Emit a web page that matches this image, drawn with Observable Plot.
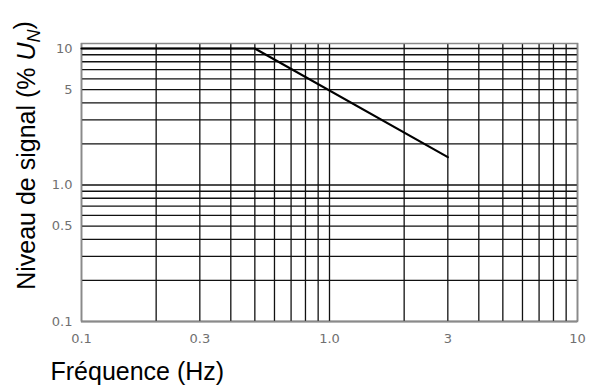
<!DOCTYPE html>
<html>
<head>
<meta charset="utf-8">
<script src="https://cdn.jsdelivr.net/npm/d3@7"></script>
<script src="https://cdn.jsdelivr.net/npm/@observablehq/plot@0.6"></script>
<style>
  body { margin: 0; background: #fff; }
</style>
</head>
<body>
<div id="chart"></div>
<script>
// Signal level limit versus frequency (log-log)
const curveFreq = [0.1, 0.5, 3];
const curveLevel = [10, 10, 1.6];

// Grid lines on both log axes
const freqGrid = [0.1, 0.2, 0.3, 0.4, 0.5, 0.6, 0.7, 0.8, 0.9, 1, 2, 3, 4, 5, 6, 7, 8, 9, 10];
const levelGrid = [0.1, 0.2, 0.3, 0.4, 0.5, 0.6, 0.7, 0.8, 0.9, 1, 2, 3, 4, 5, 6, 7, 8, 9, 10];

// Labelled ticks
const freqTicks = [0.1, 0.3, 1, 3, 10];
const freqTickLabels = ["0.1", "0.3", "1.0", "3", "10"];
const levelTicks = [0.1, 0.5, 1, 5, 10];
const levelTickLabels = ["0.1", "0.5", "1.0", "5", "10"];

const xTitle = "Fréquence (Hz)";
const yTitle = "Niveau de signal (% ";

const curve = curveFreq.map((f, i) => ({f, level: curveLevel[i]}));
const tickFont = "DejaVu Sans, sans-serif";

const chart = Plot.plot({
  width: 596,
  height: 390,
  marginLeft: 81,
  marginRight: 19,
  marginTop: 43,
  marginBottom: 69,
  x: {type: "log", domain: [0.1, 10]},
  y: {type: "log", domain: [0.1, 10], insetTop: 5},
  style: {background: "#fff", fontFamily: "Liberation Sans, Arial, sans-serif"},
  marks: [
    Plot.ruleX(freqGrid, {stroke: "#111", strokeWidth: 1.3}),
    Plot.ruleY(levelGrid, {stroke: "#111", strokeWidth: 1.3}),
    Plot.frame({stroke: "#8a8a8a", strokeWidth: 1.5}),
    Plot.line(curve, {x: "f", y: "level", stroke: "#000", strokeWidth: 2.2}),
    Plot.axisX({
      ticks: freqTicks,
      tickFormat: (d) => freqTickLabels[freqTicks.indexOf(d)],
      tickSize: 0,
      tickPadding: 12,
      label: null,
      fill: "#707070",
      fontSize: 13,
      fontFamily: tickFont
    }),
    Plot.axisY({
      ticks: levelTicks,
      tickFormat: (d) => levelTickLabels[levelTicks.indexOf(d)],
      tickSize: 0,
      tickPadding: 9,
      label: null,
      fill: "#707070",
      fontSize: 13,
      fontFamily: tickFont
    }),
    Plot.text([xTitle], {
      frameAnchor: "bottom-left",
      textAnchor: "start",
      dx: -31,
      dy: 58,
      fontSize: 25,
      fill: "#000"
    }),
    Plot.text([yTitle], {
      frameAnchor: "left",
      textAnchor: "middle",
      rotate: -90,
      dx: -55,
      dy: -27,
      fontSize: 25,
      fill: "#000",
      className: "ytitle"
    })
  ]
});

// Italic U with subscript N in the vertical title
const yText = d3.select(chart).select("g.ytitle text");
yText.text(yTitle);
yText.append("tspan").attr("font-style", "italic").text("U");
yText.append("tspan").attr("font-style", "italic").attr("font-size", 18).attr("dy", "0.3em").text("N");
yText.append("tspan").attr("dy", "-0.3em").text(")");

document.getElementById("chart").appendChild(chart);
</script>
</body>
</html>
